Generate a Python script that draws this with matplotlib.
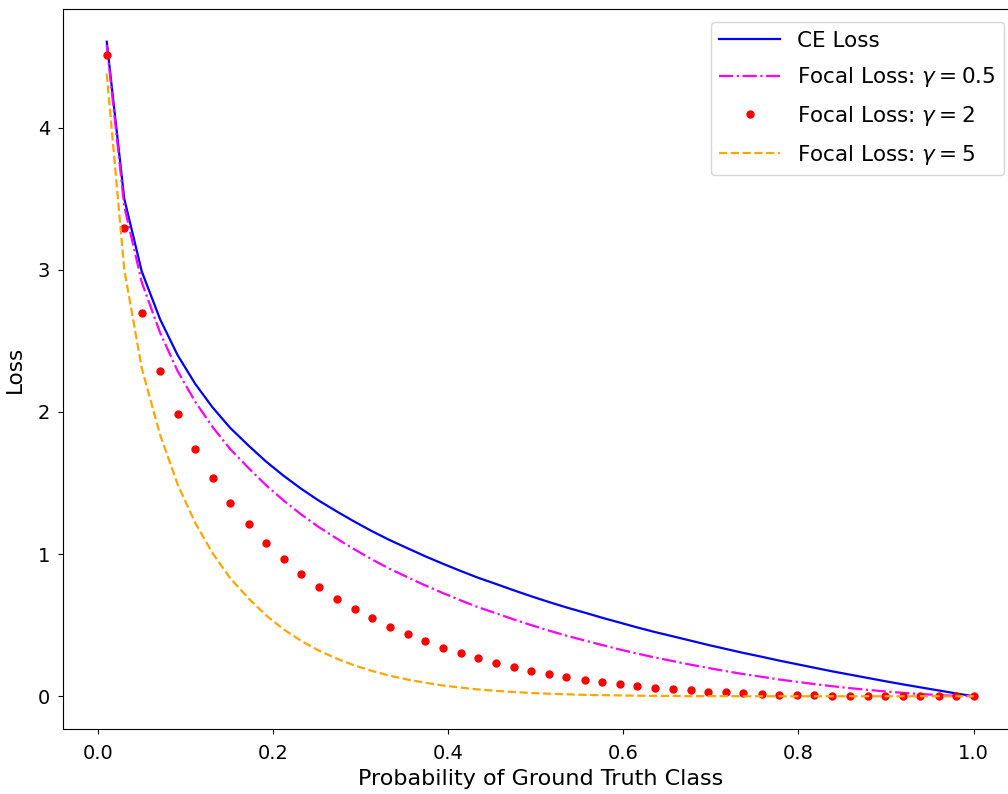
import matplotlib
matplotlib.use('Agg')
import matplotlib.pyplot as plt

# probability of the ground truth class (50 sample points)
p = [0.010, 0.030, 0.050, 0.071, 0.091, 0.111, 0.131, 0.151, 0.172, 0.192,
     0.212, 0.232, 0.252, 0.273, 0.293, 0.313, 0.333, 0.354, 0.374, 0.394,
     0.414, 0.434, 0.455, 0.475, 0.495, 0.515, 0.535, 0.556, 0.576, 0.596,
     0.616, 0.636, 0.657, 0.677, 0.697, 0.717, 0.737, 0.758, 0.778, 0.798,
     0.818, 0.838, 0.859, 0.879, 0.899, 0.919, 0.939, 0.960, 0.980, 1.000]

ce_loss = [4.605, 3.500, 2.988, 2.651, 2.399, 2.198, 2.031, 1.888, 1.763, 1.651,
           1.551, 1.460, 1.377, 1.299, 1.228, 1.161, 1.099, 1.040, 0.984, 0.932,
           0.882, 0.834, 0.789, 0.745, 0.703, 0.663, 0.625, 0.588, 0.552, 0.518,
           0.484, 0.452, 0.421, 0.391, 0.361, 0.333, 0.305, 0.278, 0.251, 0.226,
           0.201, 0.176, 0.152, 0.129, 0.106, 0.084, 0.063, 0.041, 0.020, 0.000]

focal_05 = [4.582, 3.447, 2.912, 2.556, 2.287, 2.072, 1.893, 1.739, 1.605, 1.484,
            1.377, 1.279, 1.191, 1.108, 1.033, 0.962, 0.897, 0.836, 0.779, 0.726,
            0.675, 0.627, 0.583, 0.540, 0.500, 0.462, 0.426, 0.392, 0.360, 0.329,
            0.300, 0.273, 0.247, 0.222, 0.199, 0.177, 0.156, 0.137, 0.118, 0.102,
            0.086, 0.071, 0.057, 0.045, 0.034, 0.024, 0.016, 0.008, 0.003, 0.000]

focal_2 = [4.513, 3.292, 2.694, 2.290, 1.983, 1.737, 1.533, 1.360, 1.210, 1.078,
           0.963, 0.861, 0.770, 0.687, 0.614, 0.548, 0.488, 0.435, 0.386, 0.342,
           0.303, 0.267, 0.235, 0.206, 0.179, 0.156, 0.135, 0.116, 0.099, 0.085,
           0.071, 0.060, 0.050, 0.041, 0.033, 0.027, 0.021, 0.016, 0.012, 0.009,
           0.007, 0.005, 0.003, 0.002, 0.001, 0.001, 0.000, 0.000, 0.000, 0.000]

focal_5 = [4.380, 3.002, 2.307, 1.838, 1.490, 1.220, 1.005, 0.831, 0.688, 0.569,
           0.471, 0.390, 0.322, 0.264, 0.217, 0.178, 0.145, 0.117, 0.095, 0.076,
           0.061, 0.048, 0.038, 0.030, 0.023, 0.018, 0.014, 0.010, 0.008, 0.006,
           0.004, 0.003, 0.002, 0.001, 0.001, 0.001, 0.000, 0.000, 0.000, 0.000,
           0.000, 0.000, 0.000, 0.000, 0.000, 0.000, 0.000, 0.000, 0.000, 0.000]

plt.rcParams['font.size'] = 14

fig = plt.figure(figsize=(10.08, 7.94), dpi=100)
# the right edge of the axes runs slightly past the figure, as in the reference
ax = fig.add_axes([0.0629, 0.0819, 0.946, 0.9068])

ax.plot(p, ce_loss, color='b', lw=1.6, label='CE Loss')
ax.plot(p, focal_05, color='magenta', ls='-.', lw=1.6, label=r'Focal Loss: $\gamma = 0.5$')
ax.plot(p, focal_2, color='r', ls='none', marker='o', ms=5, label=r'Focal Loss: $\gamma = 2$')
ax.plot(p, focal_5, color='orange', ls='--', lw=1.6, label=r'Focal Loss: $\gamma = 5$')

ax.set_xlim(-0.0395, 1.0495)
ax.set_ylim(-0.23, 4.835)
ax.set_xticks([0.0, 0.2, 0.4, 0.6, 0.8, 1.0])
ax.set_yticks([0, 1, 2, 3, 4])
ax.tick_params(axis='x', pad=7)
ax.tick_params(axis='y', pad=6)

ax.set_xlabel('Probability of Ground Truth Class', fontsize=16, labelpad=5)
ax.set_ylabel('Loss', fontsize=15.5, labelpad=9)

ax.legend(loc='upper right', bbox_to_anchor=(1004 / 1008, 1 - 22 / 794),
          bbox_transform=fig.transFigure, borderaxespad=0, fontsize=15.5,
          handlelength=2.8, labelspacing=0.68)

fig.savefig('out.png', dpi=100)
